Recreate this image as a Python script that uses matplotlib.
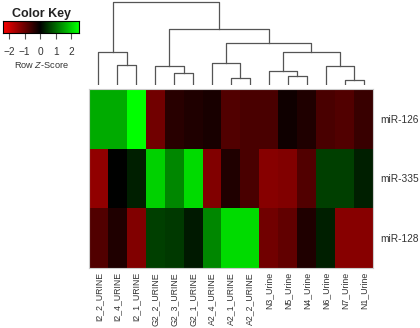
import numpy as np
import matplotlib
matplotlib.use("Agg")
import matplotlib.pyplot as plt
from matplotlib.colors import LinearSegmentedColormap

plt.rcParams["font.family"] = ["Liberation Sans", "DejaVu Sans"]
plt.rcParams["mathtext.fontset"] = "custom"
plt.rcParams["mathtext.it"] = "Liberation Sans:italic"
plt.rcParams["mathtext.rm"] = "Liberation Sans"

# --- data ---
samples = ["I2_2_URINE", "I2_4_URINE", "I2_1_URINE", "G2_2_URINE", "G2_3_URINE",
           "G2_1_URINE", "A2_4_URINE", "A2_1_URINE", "A2_2_URINE", "N3_Urine",
           "N5_Urine", "N4_Urine", "N6_Urine", "N7_Urine", "N1_Urine"]
mirnas = ["miR-126", "miR-335", "miR-128"]

z_mir126 = [1.63, 1.63, 2.45, -1.08, -0.39, -0.30, -0.23, -0.77, -0.69, -0.69,
            -0.15, -0.30, -0.69, -0.77, -0.54]
z_mir335 = [-1.38, 0.00, 0.30, 2.00, 1.30, 2.10, -1.23, -0.30, -0.69, -1.30,
            -1.23, -0.77, 0.61, 0.61, 0.30]
z_mir128 = [-0.77, -0.30, -1.23, 0.61, 0.54, 0.23, 1.30, 2.10, 2.10, -1.08,
            -0.92, -0.30, 0.30, -1.30, -1.30]

# column dendrogram merges: (left, right, height); leaves 0..14, new clusters 15..
merges = [
    (1, 2, 20), (0, 15, 33),
    (4, 5, 12), (3, 17, 19),
    (7, 8, 7), (6, 19, 22),
    (10, 11, 9), (9, 21, 14),
    (13, 14, 5), (12, 23, 19),
    (22, 24, 33), (20, 25, 42),
    (18, 26, 56), (16, 27, 83),
]

vmax = 2.45
cmap = LinearSegmentedColormap.from_list("redgreen", ["#ff0000", "#000000", "#00ff00"])

W, H = 420, 328
fig = plt.figure(figsize=(W / 100, H / 100), dpi=100)

def px_axes(x0, y0, x1, y1):
    return fig.add_axes([x0 / W, 1 - y1 / H, (x1 - x0) / W, (y1 - y0) / H])

# --- heatmap ---
ax = px_axes(89, 89, 373, 268)
mat = np.array([z_mir126, z_mir335, z_mir128])
ax.imshow(mat, cmap=cmap, vmin=-vmax, vmax=vmax, aspect="auto", interpolation="nearest")
ax.set_xticks(np.arange(len(samples)))
ax.set_xticklabels(samples, rotation=90, fontsize=6.3, color="#333333")
ax.set_yticks(np.arange(len(mirnas)))
ax.set_yticklabels(mirnas, fontsize=7.3, color="#333333")
ax.yaxis.tick_right()
ax.tick_params(length=0, pad=5)
ax.tick_params(axis="x", pad=3)
for s in ax.spines.values():
    s.set_color("#cccccc")
    s.set_linewidth(0.8)

# --- dendrogram ---
dax = px_axes(89, 0, 373, 85)
pos = {i: i + 0.5 for i in range(len(samples))}
hgt = {i: 0.0 for i in range(len(samples))}
for k, (a, b, h) in enumerate(merges):
    c = len(samples) + k
    xa, xb = pos[a], pos[b]
    dax.plot([xa, xa, xb, xb], [hgt[a], h, h, hgt[b]], color="#555555", lw=0.9)
    pos[c] = (xa + xb) / 2
    hgt[c] = h
dax.set_xlim(0, len(samples))
dax.set_ylim(0, 85)
dax.axis("off")

# --- color key ---
kax = px_axes(3, 21, 79, 33)
grad = np.linspace(-2.4, 2.5, 256).reshape(1, -1)
kax.imshow(grad, cmap=cmap, vmin=-vmax, vmax=vmax, aspect="auto",
           extent=[-2.4, 2.5, 0, 1])
kax.set_xlim(-2.4, 2.5)
kax.set_yticks([])
kax.set_xticks([-2, -1, 0, 1, 2])
kax.set_xticklabels(["\u22122", "\u22121", "0", "1", "2"], fontsize=7.3, color="#333333")
kax.tick_params(axis="x", length=4, color="#555555", pad=6)
kax.set_xlabel("Row $Z$-Score", fontsize=6.6, color="#333333", labelpad=2)
kax.set_title("Color Key", fontsize=9, fontweight="bold", color="#222222", pad=3)
for s in kax.spines.values():
    s.set_linewidth(0.8)

fig.savefig("out.png", dpi=100)
